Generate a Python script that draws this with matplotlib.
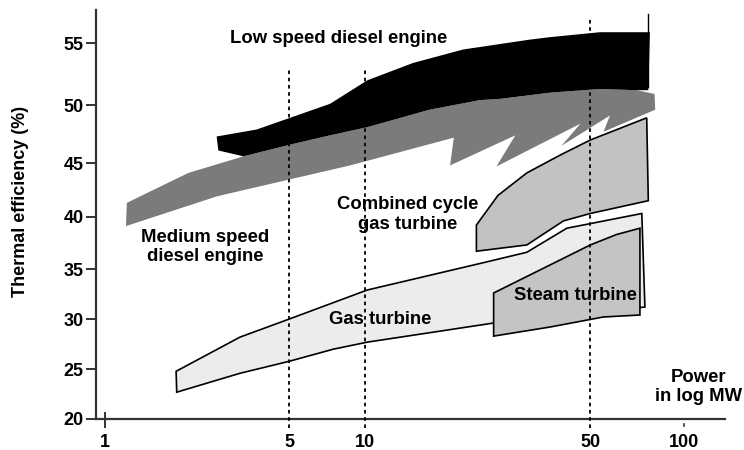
import numpy as np
import matplotlib
matplotlib.use("Agg")
import matplotlib.pyplot as plt

plt.rcParams['font.family'] = ['Liberation Sans', 'DejaVu Sans']
plt.rcParams['font.weight'] = 'bold'

# the drawing is not a true log / linear scale, so the axes follow the tick spacing of the original
x_ticks = [1, 5, 10, 50, 100]
x_tick_labels = ['1', '5', '10', '50', '100']
y_ticks = [20, 25, 30, 35, 40, 45, 50, 55]

# outlines of each area (power in MW, thermal efficiency in %)
low_speed_x = [2.65, 3.76, 5.03, 7.28, 10.2, 14.1, 20.2, 32.5, 37.5, 53.7, 77.6,
               76.7, 70.4, 53.7, 37.5, 26.3, 22.8, 15.9, 10.2, 7.28, 5.03, 3.35, 2.69]
low_speed_y = [47.3, 47.9, 48.9, 50.1, 52.0, 53.4, 54.5, 55.3, 55.5, 55.9, 55.9,
               51.2, 51.2, 51.3, 51.0, 50.5, 50.4, 49.6, 48.1, 47.4, 46.6, 45.6, 46.1]

medium_speed_x = [1.20, 2.65, 5.03, 8.75, 18.9, 18.4, 29.3, 25.6, 46.6, 40.7, 57.8, 55.1, 80.7,
                  80.3, 70.4, 53.7, 37.5, 26.3, 22.8, 15.9, 10.2, 7.28, 5.03, 3.35, 2.07, 1.21]
medium_speed_y = [39.1, 41.9, 43.5, 44.8, 47.2, 44.8, 47.4, 44.7, 48.4, 46.5, 49.1, 47.7, 49.6,
                  50.9, 51.2, 51.3, 51.0, 50.5, 50.4, 49.6, 48.1, 47.4, 46.6, 45.6, 44.1, 41.3]

combined_x = [22.2, 25.9, 31.8, 40.3, 50.0, 75.8, 76.7, 50.0, 41.3, 31.8, 22.2]
combined_y = [39.2, 42.0, 44.1, 45.7, 47.0, 48.9, 41.5, 40.3, 39.6, 37.3, 36.7]

gas_x = [1.86, 3.25, 5.0, 10.2, 23.3, 31.8, 42.3, 73.1, 74.8, 25.1, 10.2, 7.5, 5.0, 3.25, 1.87]
gas_y = [24.8, 28.2, 30.0, 32.9, 35.6, 36.6, 38.9, 40.3, 31.2, 29.6, 27.7, 27.0, 25.8, 24.6, 22.7]

steam_x = [25.1, 50.0, 60.7, 72.1, 72.1, 55.0, 37.5, 25.1]
steam_y = [32.6, 37.3, 38.3, 38.9, 30.4, 30.2, 29.2, 28.3]

# pixel positions of the ticks in the original picture
x_anchor_log = np.array([-0.5, 0, np.log10(5), 1, np.log10(50), 2, 2.5])
x_anchor_px = np.array([-26.8, 105, 289.3, 364.5, 590.3, 684.3, 840.5])
y_anchor_val = np.array([10, 20, 25, 30, 35, 40, 45, 50, 55, 65])
y_anchor_px = np.array([518.4, 419, 369.3, 319, 269, 216.7, 163.3, 105, 43.3, -80.1])


def x_fwd(v):
    return np.interp(np.log10(np.clip(v, 1e-3, None)), x_anchor_log, x_anchor_px)


def x_inv(p):
    return 10 ** np.interp(p, x_anchor_px, x_anchor_log)


def y_fwd(v):
    return np.interp(v, y_anchor_val, -y_anchor_px)


def y_inv(p):
    return np.interp(p, -y_anchor_px[::-1], y_anchor_val[::-1])


fig = plt.figure(figsize=(7.44, 4.5), dpi=100)
ax = fig.add_axes([96 / 744, 31 / 450, 629 / 744, 409 / 450])
ax.set_xscale('function', functions=(x_fwd, x_inv))
ax.set_yscale('function', functions=(y_fwd, y_inv))
ax.set_xlim(0.924, 135)
ax.set_ylim(20, 57.7)

# the areas
ax.fill(medium_speed_x, medium_speed_y, color='#7b7b7b', lw=0, zorder=2)
ax.fill(low_speed_x, low_speed_y, color='black', lw=0, zorder=3)
ax.fill(combined_x, combined_y, facecolor='#c2c2c2', edgecolor='black', lw=1.2, zorder=2)
ax.fill(gas_x, gas_y, facecolor='#ececec', edgecolor='black', lw=1.2, zorder=2)
ax.fill(steam_x, steam_y, facecolor='#c4c4c4', edgecolor='black', lw=1.2, zorder=3)

# dotted guide lines
for xv, top in [(5, 52.8), (10, 52.8), (50, 57.05)]:
    ax.plot([xv, xv], [19.1, top], color='black', lw=1.3, ls=(0, (2, 2)), zorder=4, clip_on=False)
ax.plot([76.5, 76.5], [57.4, 51.5], color='black', lw=1, zorder=1)

# labels inside the chart
ax.text(7.87, 55.4, 'Low speed diesel engine', ha='center', va='center', fontsize=13.3, fontweight='bold')
ax.text(2.39, 37.1, 'Medium speed\ndiesel engine', ha='center', va='center', fontsize=13.3,
        fontweight='bold', linespacing=1.2)
ax.text(13.6, 40.2, 'Combined cycle\ngas turbine', ha='center', va='center', fontsize=13.3,
        fontweight='bold', linespacing=1.2, zorder=5)
ax.text(11.2, 30.0, 'Gas turbine', ha='center', va='center', fontsize=13.3, fontweight='bold', zorder=5)
ax.text(44.9, 32.4, 'Steam turbine', ha='center', va='center', fontsize=13.3, fontweight='bold', zorder=5)
ax.text(110.9, 23.2, 'Power\nin log MW', ha='center', va='center', fontsize=13.3, fontweight='bold',
        linespacing=1.2)

# axes styling
for side in ['top', 'right']:
    ax.spines[side].set_visible(False)
for side in ['left', 'bottom']:
    ax.spines[side].set_linewidth(1.6)
    ax.spines[side].set_color('#333333')

ax.set_yticks(y_ticks)
ax.set_yticklabels([str(v) for v in y_ticks], fontsize=13, fontweight='bold')
ax.tick_params(axis='y', length=7, width=1.4, color='#333333', pad=2)
ax.set_xticks(x_ticks)
ax.set_xticklabels(x_tick_labels, fontsize=13, fontweight='bold')
ax.tick_params(axis='x', length=0, pad=11)
ax.minorticks_off()

# odd little marks on the x axis
ax.plot([1, 1], [19.2, 20.6], color='#333333', lw=1.4, clip_on=False)
ax.plot([100, 100], [19.3, 19.45], color='#333333', lw=1.2, clip_on=False)

ax.set_ylabel('Thermal efficiency (%)', fontsize=13, fontweight='bold')
ax.yaxis.set_label_coords(-0.106, 0.533)

fig.savefig('out.png', dpi=100)
